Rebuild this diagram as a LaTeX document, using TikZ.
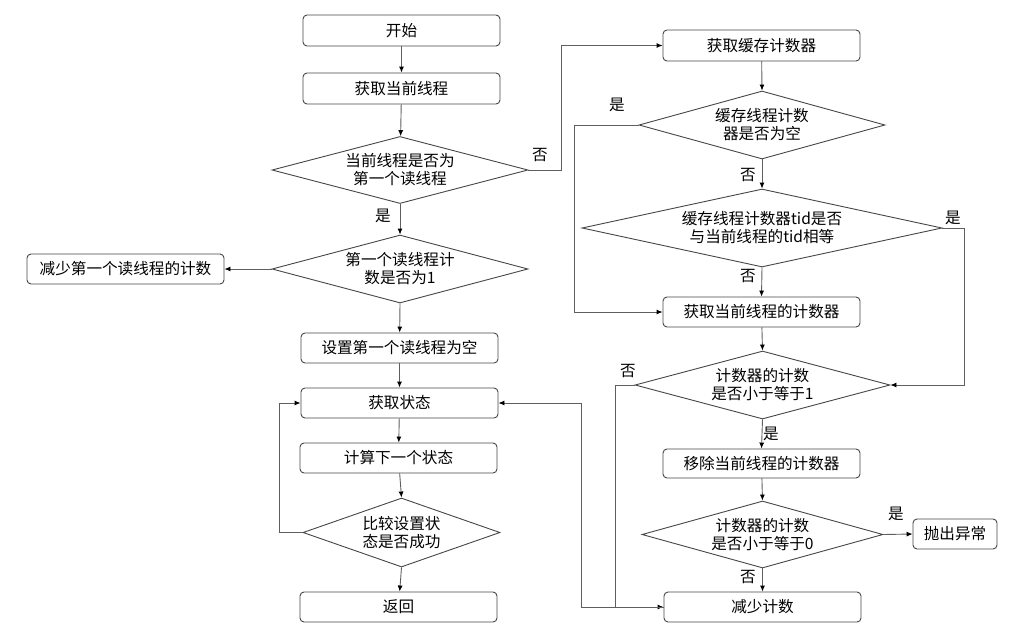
\documentclass[tikz,border=0pt]{standalone}
\usepackage{fontspec}
\setmainfont{Noto Sans CJK SC}
\usetikzlibrary{shapes.geometric,arrows.meta}
\definecolor{linec}{RGB}{95,95,95}
\definecolor{boxc}{RGB}{70,70,70}
\tikzset{
  box/.style={draw=boxc, line width=0.9pt, rounded corners=4pt, minimum width=197pt, minimum height=30pt, inner sep=0pt, font=\fontsize{15.6}{18}\selectfont},
  dia/.style={draw=boxc, line width=0.9pt, diamond, inner sep=0pt},
  lbl/.style={align=center, font=\fontsize{15.6}{18}\selectfont, inner sep=0pt},
  con/.style={draw=linec, line width=0.9pt, -{Latex[length=6pt,width=5pt,color=black]}},
  tag/.style={font=\fontsize{15.6}{18}\selectfont, inner sep=0pt}
}
\begin{document}
\begin{tikzpicture}[x=1pt,y=-1pt]
\useasboundingbox (0,0) rectangle (1019,629);
% left column
\node[box, minimum height=31pt] (start) at (401.5,30.5) {开始};
\node[box, minimum height=31pt] (getthr) at (401.5,88.5) {获取当前线程};
\node[dia, minimum width=256pt, minimum height=67pt, label={[lbl]center:当前线程是否为\\第一个读线程}] (d1) at (400,170) {};
\node[dia, minimum width=256pt, minimum height=68pt, label={[lbl]center:第一个读线程计\\数是否为1}] (d2) at (400,269) {};
\node[box] (dec1) at (125.5,269) {减少第一个读线程的计数};
\node[box] (setnull) at (399.5,348) {设置第一个读线程为空};
\node[box] (getstate) at (399.5,403) {获取状态};
\node[box] (calc) at (398.5,458) {计算下一个状态};
\node[dia, minimum width=197pt, minimum height=69pt, label={[lbl]center:比较设置状\\态是否成功}] (d3) at (401.5,532.5) {};
\node[box] (ret) at (398.5,607) {返回};
% right column
\node[box, minimum height=31pt] (getcache) at (761.5,45.5) {获取缓存计数器};
\node[dia, minimum width=246pt, minimum height=68pt, label={[lbl]center:缓存线程计数\\器是否为空}] (d4) at (762,125) {};
\node[dia, minimum width=360pt, minimum height=78pt, label={[lbl]center:缓存线程计数器tid是否\\与当前线程的tid相等}] (d5) at (762,228) {};
\node[box] (getcur) at (761.5,312) {获取当前线程的计数器};
\node[dia, minimum width=255pt, minimum height=68pt, label={[lbl]center:计数器的计数\\是否小于等于1}] (d6) at (762.5,385) {};
\node[box, minimum height=29pt] (remove) at (761.5,463.5) {移除当前线程的计数器};
\node[dia, minimum width=241pt, minimum height=67pt, label={[lbl]center:计数器的计数\\是否小于等于0}] (d7) at (762.5,534.5) {};
\node[box, minimum width=84pt] (throw) at (955,534) {抛出异常};
\node[box] (dec) at (762.5,607) {减少计数};
% connectors left
\draw[con] (start) -- (getthr);
\draw[con] (getthr) -- (d1);
\draw[con] (d1.south) -- (d2.north);
\draw[con] (d2.west) -- (dec1.east);
\draw[con] (d2.south) -- (setnull);
\draw[con] (setnull) -- (getstate);
\draw[con] (getstate) -- (calc);
\draw[con] (calc) -- (d3.north);
\draw[con] (d3.south) -- (ret);
\draw[con] (d3.west) -- ++(-23,0) |- (getstate.west);
% connectors right
\draw[con] (d1.east) -- ++(33,0) |- (getcache.west);
\draw[con] (getcache) -- (d4.north);
\draw[con] (d4.south) -- (d5.north);
\draw[con] (d4.west) -- ++(-64,0) |- (getcur.west);
\draw[con] (d5.south) -- (getcur.north);
\draw[con] (d5.east) -- ++(22,0) |- (d6.east);
\draw[con] (getcur) -- (d6.north);
\draw[con] (d6.south) -- (remove.north);
\draw[con] (remove) -- (d7.north);
\draw[con] (d7.east) -- (throw.west);
\draw[con] (d7.south) -- (dec.north);
\draw[con] (d6.west) -- ++(-19,0) |- (dec.west);
\draw[con] (dec.west) -- ++(-82,0) |- (getstate.east);
% branch labels
\node[tag] (t1) at (383,216) {是};
\node[tag] (t2) at (540,155) {否};
\node[tag] (t3) at (617,105) {是};
\node[tag] (t4) at (748,175) {否};
\node[tag] (t5) at (748,276) {否};
\node[tag] (t6) at (953,218) {是};
\node[tag] (t7) at (628,371) {否};
\node[tag] (t8) at (771,434) {是};
\node[tag] (t9) at (896,514) {是};
\node[tag] (t10) at (748,577) {否};
\end{tikzpicture}
\end{document}
